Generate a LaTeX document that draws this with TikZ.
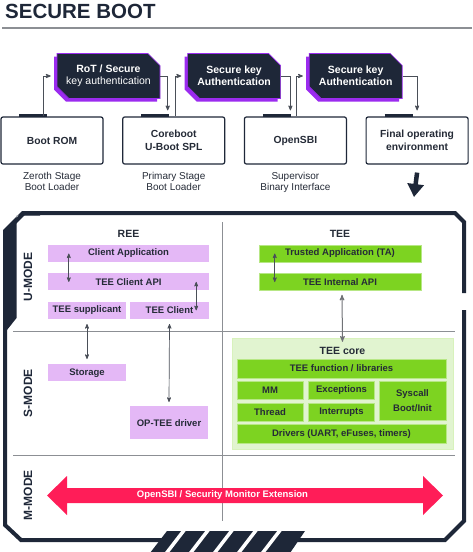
\documentclass[tikz,border=0pt]{standalone}
\usepackage{fontspec}
\setmainfont{Liberation Sans}
\usetikzlibrary{arrows,arrows.meta,calc,shapes,shapes.misc,shadows,positioning}
\definecolor{navy}{HTML}{1E2738}
\definecolor{ink}{HTML}{252B37}
\definecolor{vio}{HTML}{9B2BEF}
\definecolor{lav}{HTML}{E4B8F6}
\definecolor{grn}{HTML}{7DD321}
\definecolor{lgrn}{HTML}{E1F4D0}
\definecolor{hot}{HTML}{FF1D58}
\definecolor{wire}{HTML}{4A4F58}
\definecolor{rulegray}{HTML}{8C8F94}
\tikzset{
  keybox/.style={chamfered rectangle,chamfered rectangle corners={north east,south west},
    chamfered rectangle sep=6pt,fill=navy,draw=vio,line width=.6pt,text=white,align=center,
    minimum width=#1,minimum height=45pt,inner sep=1pt,
    font=\fontsize{10.5}{12}\selectfont\bfseries,
    drop shadow={shadow xshift=-3pt,shadow yshift=-3pt,fill=vio,opacity=1}},
  stage/.style={rectangle,rounded corners=2pt,draw=navy,line width=1.2pt,fill=white,
    minimum width=102pt,minimum height=47pt,align=center,text=ink,
    font=\fontsize{10.3}{12.5}\selectfont\bfseries},
  sub/.style={font=\fontsize{10}{11.5}\selectfont,text=ink,align=center,label distance=4pt},
  head/.style={font=\fontsize{10.5}{12}\selectfont\bfseries,text=ink,inner sep=1pt},
  ree/.style={fill=lav,minimum height=17pt,inner sep=0pt,text=ink,align=center,
    font=\fontsize{9.5}{11}\selectfont\bfseries},
  tee/.style={ree,fill=grn,draw=grn!55!white,line width=.5pt},
  core/.style={fill=lgrn,draw=grn!30!white,line width=.5pt},
  mode/.style={rotate=90,text=navy,font=\fontsize{12}{12}\selectfont\bfseries},
  frame/.style={draw=navy,line width=4pt,line join=miter},
  divider/.style={draw=rulegray,line width=.9pt},
  tab/.style={draw=navy,line width=3pt}
}

\begin{document}
\begin{tikzpicture}[x=1pt,y=-1pt,>=stealth',
  flow/.style={->,draw=wire,line width=.8pt,shorten >=6pt},
  dbl/.style={<->,draw=wire,line width=.7pt}]
  \useasboundingbox (0,0) rectangle (472,552);

  \node[anchor=base west,inner sep=0,text=navy,font=\fontsize{20.5}{20.5}\selectfont\bfseries] (ttl) at (5,18) {SECURE BOOT};
  \coordinate (rl) at (2,28);
  \coordinate (rr) at (472,28);
  \draw[draw=rulegray,line width=1.2pt] (rl) -- (rr);

  % boot chain
  \node[stage,label={[sub]below:{Zeroth Stage\\Boot Loader}}] (br) at (52,140.5) {Boot ROM};
  \node[stage,right=18.5pt of br,label={[sub]below:{Primary Stage\\Boot Loader}}] (cb) {Coreboot\\U-Boot SPL};
  \node[stage,right=18.5pt of cb,label={[sub]below:{Supervisor\\Binary Interface}}] (sbi) {OpenSBI};
  \node[stage,right=18.5pt of sbi] (fin) {Final operating\\environment};
  \draw[tab] ([xshift=19pt,yshift=1pt]br.north west) -- ([xshift=47pt,yshift=1pt]br.north west);
  \draw[tab] ([xshift=19pt,yshift=1pt]cb.north west) -- ([xshift=47pt,yshift=1pt]cb.north west);
  \draw[tab] ([xshift=19pt,yshift=1pt]sbi.north west) -- ([xshift=47pt,yshift=1pt]sbi.north west);
  \draw[tab] ([xshift=19pt,yshift=1pt]fin.north west) -- ([xshift=47pt,yshift=1pt]fin.north west);

  \node[keybox=103pt] (k1) at (108.5,76) {RoT / Secure\\\mdseries key authentication};
  \node[keybox=93pt,right=27pt of k1] (k2) {Secure key\\Authentication};
  \node[keybox=93pt,right=28pt of k2] (k3) {Secure key\\Authentication};

  \draw[flow] ([xshift=-9pt]br.north) |- (k1.west);
  \draw[flow] (k1.east) -| ([xshift=-6pt]cb.north);
  \draw[flow] ([xshift=2pt]cb.north) |- (k2.west);
  \draw[flow] (k2.east) -| ([xshift=-5pt]sbi.north);
  \draw[flow] ([xshift=1pt]sbi.north) |- (k3.west);
  \draw[flow] (k3.east) -| (fin.north);

  \coordinate (dn) at (414,197);
  \draw[navy,line width=4.5pt,-{Triangle[width=16pt,length=13pt]}] ([yshift=-8pt]fin.south) -- (dn);

  % frame and modes
  \coordinate (h1l) at (13,331);
  \coordinate (h1r) at (455,331);
  \coordinate (h2l) at (13,455);
  \coordinate (h2r) at (455,455);
  \coordinate (vt) at (222,222);
  \coordinate (vb) at (222,521);
  \draw[divider] (h1l) -- (h1r);
  \draw[divider] (h2l) -- (h2r);
  \draw[divider] (vt) -- (vb);

  \draw[frame] (464,293) -- (464,222) -- (455,213) -- (24,213) -- (5,232) -- (5,525) -- (21,540)
    -- (445,540) -- (464,521) -- (464,310);
  \fill[navy] (3,230) -- (22,211) -- (40,211) -- (40,215.5) -- (16.5,215.5) -- (16.5,318) -- (7,330) -- (3,330) -- cycle;
  \fill[navy] (167,531) -- (305,531) -- (290,553) -- (150,553) -- cycle;
  \draw[white,line width=3.5pt] (185,529) -- (165,555);
  \draw[white,line width=3.5pt] (209,529) -- (189,555);
  \draw[white,line width=3.5pt] (233,529) -- (213,555);
  \draw[white,line width=3.5pt] (257,529) -- (237,555);
  \draw[white,line width=3.5pt] (281,529) -- (261,555);

  \node[mode] (um) at (28,277) {U-MODE};
  \node[mode] (sm) at (28,393) {S-MODE};
  \node[mode] (mm0) at (28,495) {M-MODE};

  % REE side
  \node[head] (reeh) at (128.5,234) {REE};
  \node[ree,minimum width=161pt] (ca) at (128.5,253.5) {Client Application};
  \node[ree,minimum width=161pt,below=11pt of ca] (api) {TEE Client API};
  \node[ree,minimum width=78pt,below=11pt of api.south west,anchor=north west] (sup) {TEE supplicant};
  \node[ree,minimum width=79pt,below=11pt of api.south east,anchor=north east] (tc) {TEE Client};
  \node[ree,minimum width=78pt,below=45pt of sup] (sto) {Storage};
  \node[ree,minimum width=78pt,minimum height=33pt,below=87pt of tc.south west,anchor=north west] (opt) {OP-TEE driver};

  \draw[dbl] ([xshift=21pt]ca.west) -- ([xshift=21pt]api.west);
  \draw[dbl] ([xshift=-13pt]api.east) -- ([xshift=-13pt]tc.east);
  \draw[dbl] ([yshift=-5pt]sup.south) -- ([yshift=5pt]sto.north);
  \draw[dbl] ([yshift=-5pt]tc.south) -- ([yshift=4pt]opt.north);

  % TEE side
  \node[head] (teeh) at (340,234) {TEE};
  \node[tee,minimum width=162pt] (ta) at (340,253.5) {Trusted Application (TA)};
  \node[tee,minimum width=162pt,below=11pt of ta] (tia) {TEE Internal API};
  \node[core,minimum width=221pt,minimum height=111pt] (tc0) at (342.5,393.5) {};
  \node[head,below=8pt of tc0.north] (tcl) {TEE core};
  \node[tee,minimum width=209pt,minimum height=19pt] (fn) at (341.5,368.5) {TEE function / libraries};
  \node[tee,minimum width=66pt,minimum height=18pt,below=3pt of fn.south west,anchor=north west] (mm) {MM};
  \node[tee,minimum width=66pt,minimum height=18pt,right=5pt of mm] (exc) {Exceptions};
  \node[tee,minimum width=67pt,minimum height=39pt,below=3pt of fn.south east,anchor=north east] (sys) {Syscall\\[4pt]Boot/Init};
  \node[tee,minimum width=66pt,minimum height=18pt,below=3pt of mm] (thr) {Thread};
  \node[tee,minimum width=66pt,minimum height=18pt,below=3pt of exc] (irq) {Interrupts};
  \node[tee,minimum width=209pt,minimum height=19pt,below=3pt of thr.south west,anchor=north west] (drv) {Drivers (UART, eFuses, timers)};

  \draw[dbl] ([xshift=16pt]ta.west) -- ([xshift=16pt]tia.west);
  \draw[dbl,draw=rulegray!80!black,line width=1pt] ([xshift=2pt,yshift=-4pt]tia.south) -- ([yshift=-4pt]tc0.north);

  % M-mode
  \coordinate (ml) at (47,495.5);
  \coordinate (mr) at (443,495.5);
  \fill[hot] (ml) -- ($(ml)+(20,-19.5)$) -- ($(ml)+(20,-7.5)$) -- ($(mr)+(-20,-7.5)$) -- ($(mr)+(-20,-19.5)$)
    -- (mr) -- ($(mr)+(-20,19.5)$) -- ($(mr)+(-20,7.5)$) -- ($(ml)+(20,7.5)$) -- ($(ml)+(20,19.5)$) -- cycle;
  \node[text=white,font=\fontsize{9.5}{11}\selectfont\bfseries] (mon) at (222.5,495.5) {OpenSBI / Security Monitor Extension};
\end{tikzpicture}
\end{document}
